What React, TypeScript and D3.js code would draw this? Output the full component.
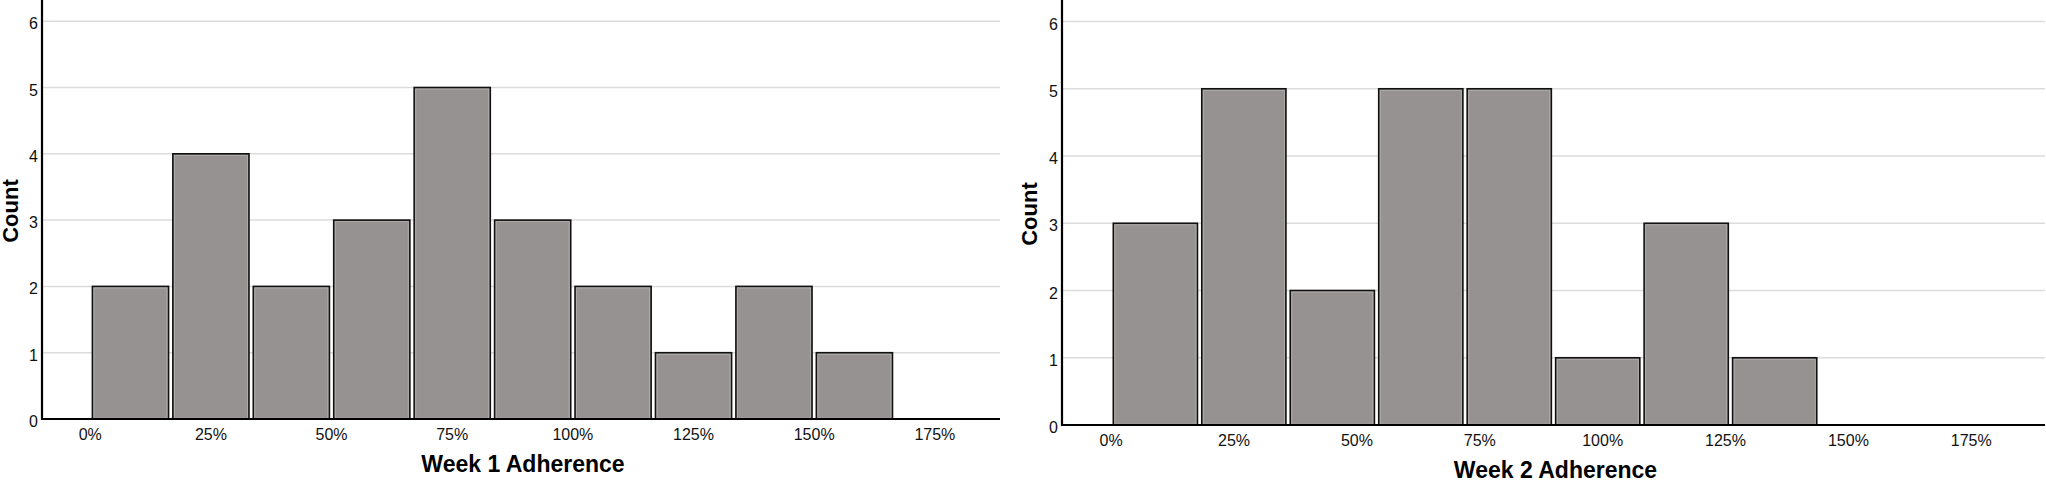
import React from "react";
import * as d3 from "d3";

// ---- data ----
const week1Counts = [2, 4, 2, 3, 5, 3, 2, 1, 2, 1];
const week1BinWidth = 100 / 6; // percent per bin
const week2Counts = [3, 5, 2, 5, 5, 1, 3, 1];
const week2BinWidth = 18; // percent per bin
const xTicks = [0, 25, 50, 75, 100, 125, 150, 175];
const yTicks = [0, 1, 2, 3, 4, 5, 6];
const week1Domain = [-10, 188.5];
const week2Domain = [-10, 190];
const yDomain = [0, 6.32];

const FONT = "'Liberation Sans', Arial, sans-serif";

type PanelProps = {
  counts: number[];
  binWidth: number;
  xDomain: number[];
  x0: number;
  x1: number;
  yBottom: number;
  title: string;
  titleBaseline: number;
  countX: number;
};

function Panel({ counts, binWidth, xDomain, x0, x1, yBottom, title, titleBaseline, countX }: PanelProps) {
  const x = d3.scaleLinear().domain(xDomain).range([x0, x1]);
  const y = d3.scaleLinear().domain(yDomain).range([yBottom, 0]);
  const gap = 4.3;
  const bwPx = x(binWidth) - x(0);
  return (
    <g>
      {yTicks.filter((t) => t > 0).map((t) => (
        <line key={"g" + t} x1={x0} x2={x1} y1={y(t)} y2={y(t)} stroke="#dcdcdc" strokeWidth={1.5} />
      ))}
      {counts.map((c, i) => {
        const left = x(i * binWidth) + gap / 2;
        const w = bwPx - gap;
        const top = y(c);
        const h = y(0) - top;
        if (c <= 0) return null;
        return (
          <g key={"b" + i}>
            <rect x={left} y={top} width={w} height={h} fill="#969291" stroke="#111" strokeWidth={1.6} />
            <rect x={left + 1.6} y={top + 1.6} width={w - 3.2} height={h - 2.4} fill="none" stroke="#b3afae" strokeWidth={0.8} />
          </g>
        );
      })}
      {/* axes */}
      <line x1={x0} x2={x0} y1={0} y2={y(0) + 1} stroke="#000" strokeWidth={2.2} />
      <line x1={x0 - 1} x2={x1} y1={y(0)} y2={y(0)} stroke="#000" strokeWidth={2.2} />
      {yTicks.map((t) => (
        <text key={"yt" + t} x={x0 - 4} y={y(t) + 8} textAnchor="end" fontFamily={FONT} fontSize={16} fill="#111">
          {t}
        </text>
      ))}
      {xTicks.map((t) => (
        <text key={"xt" + t} x={x(t)} y={y(0) + 20.5} textAnchor="middle" fontFamily={FONT} fontSize={16} fill="#111">
          {t + "%"}
        </text>
      ))}
      <text
        transform={`translate(${countX},${(y(0) + 0) / 2 + 1.5}) rotate(-90)`}
        textAnchor="middle"
        fontFamily={FONT}
        fontSize={22}
        fontWeight="bold"
        fill="#000"
      >
        Count
      </text>
      <text x={(x0 + x1) / 2 + 2} y={titleBaseline} textAnchor="middle" fontFamily={FONT} fontSize={23} fontWeight="bold" fill="#000">
        {title}
      </text>
    </g>
  );
}

export default function App() {
  return (
    <svg
      width={2046}
      height={480}
      style={{ position: "absolute", left: 0, top: 0, background: "#fff" }}
      xmlns="http://www.w3.org/2000/svg"
    >
      <rect x={0} y={0} width={2046} height={480} fill="#fff" />
      <Panel
        counts={week1Counts}
        binWidth={week1BinWidth}
        xDomain={week1Domain}
        x0={42}
        x1={1000}
        yBottom={419}
        title="Week 1 Adherence"
        titleBaseline={471.5}
        countX={18.3}
      />
      <Panel
        counts={week2Counts}
        binWidth={week2BinWidth}
        xDomain={week2Domain}
        x0={1062}
        x1={2045}
        yBottom={425}
        title="Week 2 Adherence"
        titleBaseline={478}
        countX={1037.3}
      />
    </svg>
  );
}
